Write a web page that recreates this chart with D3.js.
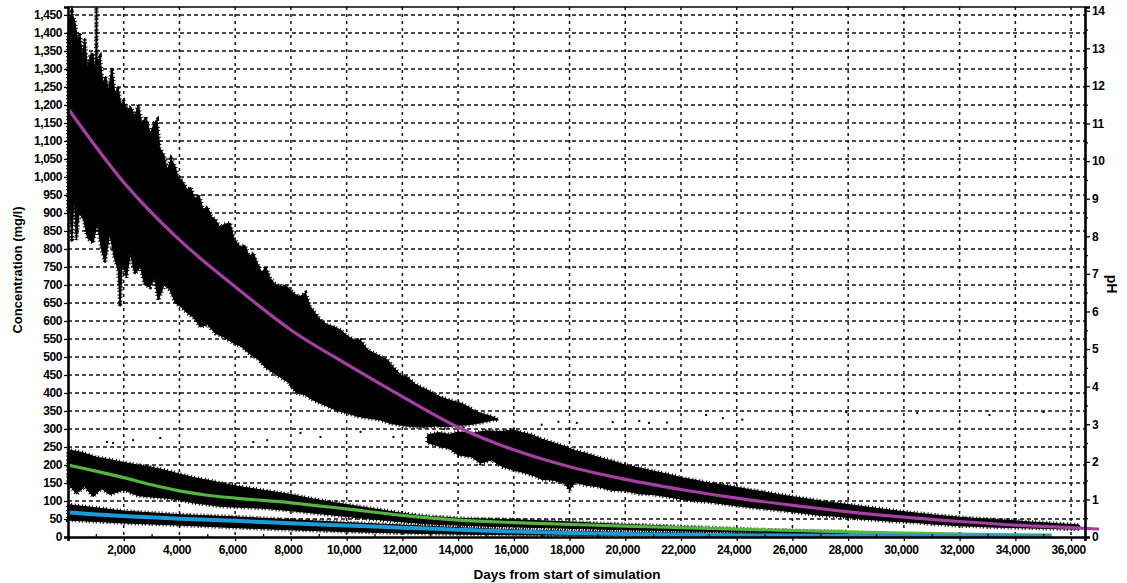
<!DOCTYPE html>
<html><head><meta charset="utf-8">
<script src="https://cdn.jsdelivr.net/npm/d3@7"></script>
<style>
html,body{margin:0;padding:0;background:#fff;}
svg text{font-family:"Liberation Sans",Arial,sans-serif;font-weight:bold;fill:#000;}
</style></head>
<body><svg id="c" width="1127" height="583"></svg>
<script>
// ---------- data ----------
const xTicks = d3.range(2000, 36001, 2000);
const yTicks = d3.range(0, 1451, 50);
const pHTicks = d3.range(0, 15, 1);

// Upper (main) concentration noise band, top edge [day, mg/l]
const bandATop = [[0,1380],[70,1440],[140,1458],[250,1430],[350,1380],[430,1400],[520,1330],[600,1386],[700,1300],[800,1340],[900,1344],[960,1290],[1000,1330],[1020,1472],[1040,1320],[1150,1333],[1250,1261],[1350,1280],[1450,1240],[1580,1303],[1680,1233],[1800,1250],[1900,1200],[2000,1210],[2120,1186],[2250,1195],[2400,1170],[2520,1200],[2650,1150],[2800,1167],[2950,1120],[3100,1150],[3200,1158],[3300,1080],[3450,1060],[3560,1019],[3700,1050],[3850,1028],[3950,1000],[4100,990],[4280,964],[4400,972],[4550,940],[4700,950],[4850,910],[5000,917],[5150,890],[5300,881],[5450,860],[5600,868],[5820,872],[5950,830],[6180,806],[6350,810],[6500,780],[6650,789],[6800,760],[6950,733],[7100,750],[7250,720],[7400,705],[7620,694],[7800,700],[8090,678],[8300,667],[8520,678],[8700,640],[8900,620],[9060,603],[9300,590],[9500,585],[9780,575],[10000,560],[10250,548],[10500,547],[10750,520],[11000,510],[11250,500],[11470,492],[11700,470],[11950,450],[12190,444],[12450,425],[12700,415],[12900,408],[13200,395],[13500,385],[13800,378],[14090,372],[14400,360],[14600,350],[14810,344],[15050,338],[15280,333],[15450,325]];
// bottom edge
const bandABot = [[0,900],[70,917],[140,820],[220,956],[300,825],[400,900],[560,881],[700,830],[900,817],[1050,870],[1200,800],[1330,761],[1500,844],[1650,780],[1800,740],[1870,640],[1950,760],[2100,720],[2240,789],[2400,730],[2600,750],[2750,700],[2950,694],[3100,720],[3240,658],[3450,700],[3660,686],[3850,650],[4050,640],[4280,622],[4500,610],[4750,583],[5000,590],[5300,565],[5600,555],[5900,540],[6200,530],[6500,510],[6800,495],[7100,470],[7400,455],[7620,444],[7900,430],[8200,400],[8500,395],[8800,380],[9100,370],[9400,360],[9700,350],[10030,344],[10400,335],[10800,330],[11210,325],[11600,315],[12000,310],[12400,306],[12800,305],[13200,308],[13620,306],[14000,310],[14400,312],[14800,317],[15100,322],[15280,325],[15450,325]];

// Continuation band after the step
const bandBTop = [[12900,283],[13300,290],[13700,285],[14000,292],[14500,288],[15000,295],[15500,293],[16000,297],[16300,290],[16600,285],[17000,272],[17400,262],[17800,252],[18200,240],[18600,232],[19000,222],[19500,212],[20000,200],[20500,192],[21000,183],[21500,175],[22000,165],[22500,158],[23000,150],[23500,145],[24000,138],[24500,131],[25000,125],[25500,118],[26000,112],[26500,106],[27000,100],[27500,95],[28000,90],[28500,85],[29000,80],[29500,75],[30000,70],[30500,66],[31000,62],[31500,58],[32000,55],[32500,52],[33000,50],[33500,47],[34000,45],[34500,42],[35000,40],[35500,37],[36000,35],[36300,33]];
const bandBBot = [[12900,262],[13300,252],[13700,245],[14000,228],[14500,222],[14800,205],[15200,214],[15600,195],[16000,186],[16400,178],[16800,168],[17000,160],[17400,158],[17800,150],[18000,131],[18200,152],[18600,144],[19000,140],[19500,130],[20000,128],[20500,120],[21000,118],[21500,112],[22000,105],[22500,100],[23000,97],[23500,92],[24000,87],[24500,82],[25000,78],[25500,74],[26000,70],[26500,65],[27000,60],[27500,58],[28000,54],[28500,50],[29000,47],[29500,44],[30000,42],[30500,40],[31000,36],[31500,34],[32000,31],[32500,30],[33000,28],[33500,27],[34000,26],[34500,25],[35000,24],[35500,23],[36000,22],[36300,22]];

// Noise band around the green series
const bandGTop = [[0,242],[500,235],[1000,222],[1500,215],[2000,207],[2500,200],[3000,194],[3500,185],[4000,175],[4500,165],[5000,158],[5500,150],[6000,142],[6500,136],[7000,130],[7500,124],[8000,118],[8500,110],[9000,103],[9500,96],[10000,90],[10500,84],[11000,78],[11500,72],[12000,66],[12500,61],[13000,57],[13500,55],[14000,52],[15000,50],[16000,48],[17000,45],[18000,42],[19000,38],[20000,35],[21000,32],[22000,29],[23000,26],[24000,23],[25000,20],[26000,18],[27000,16],[28000,15]];
const bandGBot = [[0,150],[300,120],[600,140],[900,112],[1200,135],[1500,118],[2000,131],[2500,115],[3000,111],[3500,108],[4000,103],[4500,95],[5000,90],[5500,85],[6000,83],[7000,80],[8000,73],[9000,65],[10000,57],[11000,49],[12000,42],[13000,36],[14000,33],[15000,30],[16000,28],[18000,24],[20000,20],[22000,17],[24000,14],[26000,12],[28000,10]];

// Noise band around the cyan series
const bandCTop = [[0,90],[2000,72],[4000,62],[6000,56],[8000,48],[10000,40],[12000,33],[14000,26],[16000,20],[18000,16],[20000,13],[22000,11],[24000,10],[26000,9],[28000,8],[30000,8],[32000,7]];
const bandCBot = [[0,47],[2000,39],[4000,33],[6000,26],[8000,20],[10000,15],[12000,11],[14000,8],[16000,6],[20000,4],[24000,3],[28000,3],[32000,3]];

// scattered isolated points
const dots = [[1400,264],[1620,261],[2340,269],[3310,275],[6650,264],[7150,269],[8340,289],[9060,278],[10500,292],[11680,278],[13500,300],[14200,305],[17000,312],[17600,320],[18260,317],[19550,319],[20500,322],[20850,317],[21500,318],[22900,339],[23500,330],[24200,326],[25990,347],[27930,347],[30480,344],[33070,339],[35010,347]];

// smooth fitted curves [day, value]
const magentaCurve = [[0,1190],[2000,985],[4000,825],[6000,695],[8000,575],[10000,480],[12000,390],[14000,305],[16000,242],[18000,195],[20000,160],[22000,132],[24000,108],[26000,88],[28000,70],[30000,55],[32000,43],[34000,33],[36000,26],[37000,22]];
const greenCurve = [[0,200],[1000,183],[2000,165],[3000,145],[4000,128],[5000,116],[6000,108],[8000,95],[10000,78],[12000,60],[14000,47],[16000,40],[18000,35],[20000,30],[22000,26],[24000,22],[26000,18],[28000,14],[30000,11],[32000,8],[34000,6],[35300,5]];
const cyanCurve = [[0,68],[2000,58],[4000,51],[6000,45],[8000,38],[10000,32],[12000,26],[14000,20],[16000,15],[18000,11],[20000,8],[24000,5],[28000,3],[32000,2],[35300,2]];

// ---------- chart ----------
const svg = d3.select("#c");
svg.append("rect").attr("width",1127).attr("height",583).attr("fill","#fff");
const L = 68, R = 1085, T = 7, B = 537;
const x = d3.scaleLinear().domain([0, 36500]).range([L, R]);
const y = d3.scaleLinear().domain([0, 1472]).range([B, T]);
const yR = d3.scaleLinear().domain([0, 14.1]).range([B, T]);

// gridlines
const grid = svg.append("g").attr("stroke","#111").attr("stroke-width",1.5).attr("fill","none");
grid.selectAll("line.h").data(yTicks.filter(d=>d>0)).join("line")
  .attr("x1",L).attr("x2",R).attr("y1",d=>y(d)).attr("y2",d=>y(d))
  .attr("stroke-dasharray","4,3");
grid.selectAll("line.v").data(xTicks).join("line")
  .attr("x1",d=>x(d)).attr("x2",d=>x(d)).attr("y1",T).attr("y2",B)
  .attr("stroke-dasharray","3,4");

// noise bands as closed polygons, with a fuzzy edge
const line = d3.line().x(d=>x(d[0])).y(d=>y(d[1]));
function band(top, bot){
  const pts = top.concat(bot.slice().reverse());
  const d = line(pts)+"Z";
  svg.append("path").attr("d", d).attr("fill","#000").attr("stroke","#000").attr("stroke-width",1);
  svg.append("path").attr("d", d).attr("fill","none").attr("stroke","#000")
    .attr("stroke-width",4).attr("stroke-dasharray","1,2,1,3");
}
band(bandATop, bandABot);
band(bandBTop, bandBBot);
band(bandGTop, bandGBot);
band(bandCTop, bandCBot);

svg.append("g").selectAll("rect").data(dots).join("rect")
  .attr("x",d=>x(d[0])-1).attr("y",d=>y(d[1])-1).attr("width",2).attr("height",2).attr("fill","#000");

// smooth curves
const smooth = d3.line().x(d=>x(d[0])).y(d=>y(d[1])).curve(d3.curveMonotoneX);
svg.append("path").attr("d",smooth(greenCurve)).attr("fill","none").attr("stroke","#55B443").attr("stroke-width",3.2);
svg.append("path").attr("d",smooth(cyanCurve)).attr("fill","none").attr("stroke","#1E9AD6").attr("stroke-width",4);
svg.append("path").attr("d",smooth(magentaCurve)).attr("fill","none").attr("stroke","#A53FA4").attr("stroke-width",3.2);

// frame
svg.append("line").attr("x1",L).attr("x2",R).attr("y1",T).attr("y2",T).attr("stroke","#000").attr("stroke-width",1.6);

// axes
const fmt = d3.format(",");
const gL = svg.append("g").attr("transform",`translate(${L},0)`)
  .call(d3.axisLeft(y).tickValues(yTicks).tickFormat(fmt).tickSize(4).tickPadding(2));
const gB = svg.append("g").attr("transform",`translate(0,${B})`)
  .call(d3.axisBottom(x).tickValues(xTicks).tickFormat(fmt).tickSize(4).tickPadding(4));
const gBm = svg.append("g").attr("transform",`translate(0,${B})`)
  .call(d3.axisBottom(x).tickValues(d3.range(1000,36001,2000)).tickFormat("").tickSize(-3));
const gR = svg.append("g").attr("transform",`translate(${R},0)`)
  .call(d3.axisRight(yR).tickValues(pHTicks).tickSize(5).tickPadding(2));
const gRm = svg.append("g").attr("transform",`translate(${R},0)`)
  .call(d3.axisRight(yR).tickValues(d3.range(0.5,14,1)).tickFormat("").tickSize(3));

[gL,gB,gBm,gR,gRm].forEach(g=>{
  g.selectAll("text").style("font-size","12px").style("font-family","'Liberation Sans',Arial,sans-serif").style("font-weight","bold").style("letter-spacing","-0.4px");
  g.selectAll("line").attr("stroke","#000").attr("stroke-width",1.3);
  g.select(".domain").attr("stroke","#000").attr("stroke-width",2.6);
});
gB.selectAll("text").attr("dx","-3px");
gBm.select(".domain").remove(); gRm.select(".domain").remove();

// titles
svg.append("text").attr("transform","translate(22,270) rotate(-90)").attr("text-anchor","middle")
  .style("font-size","13px").text("Concentration (mg/l)");
svg.append("text").attr("x",567).attr("y",579).attr("text-anchor","middle")
  .style("font-size","13.5px").text("Days from start of simulation");
svg.append("text").attr("transform","translate(1107,284) rotate(90)").attr("text-anchor","middle")
  .style("font-size","14px").text("pH");
</script></body></html>
